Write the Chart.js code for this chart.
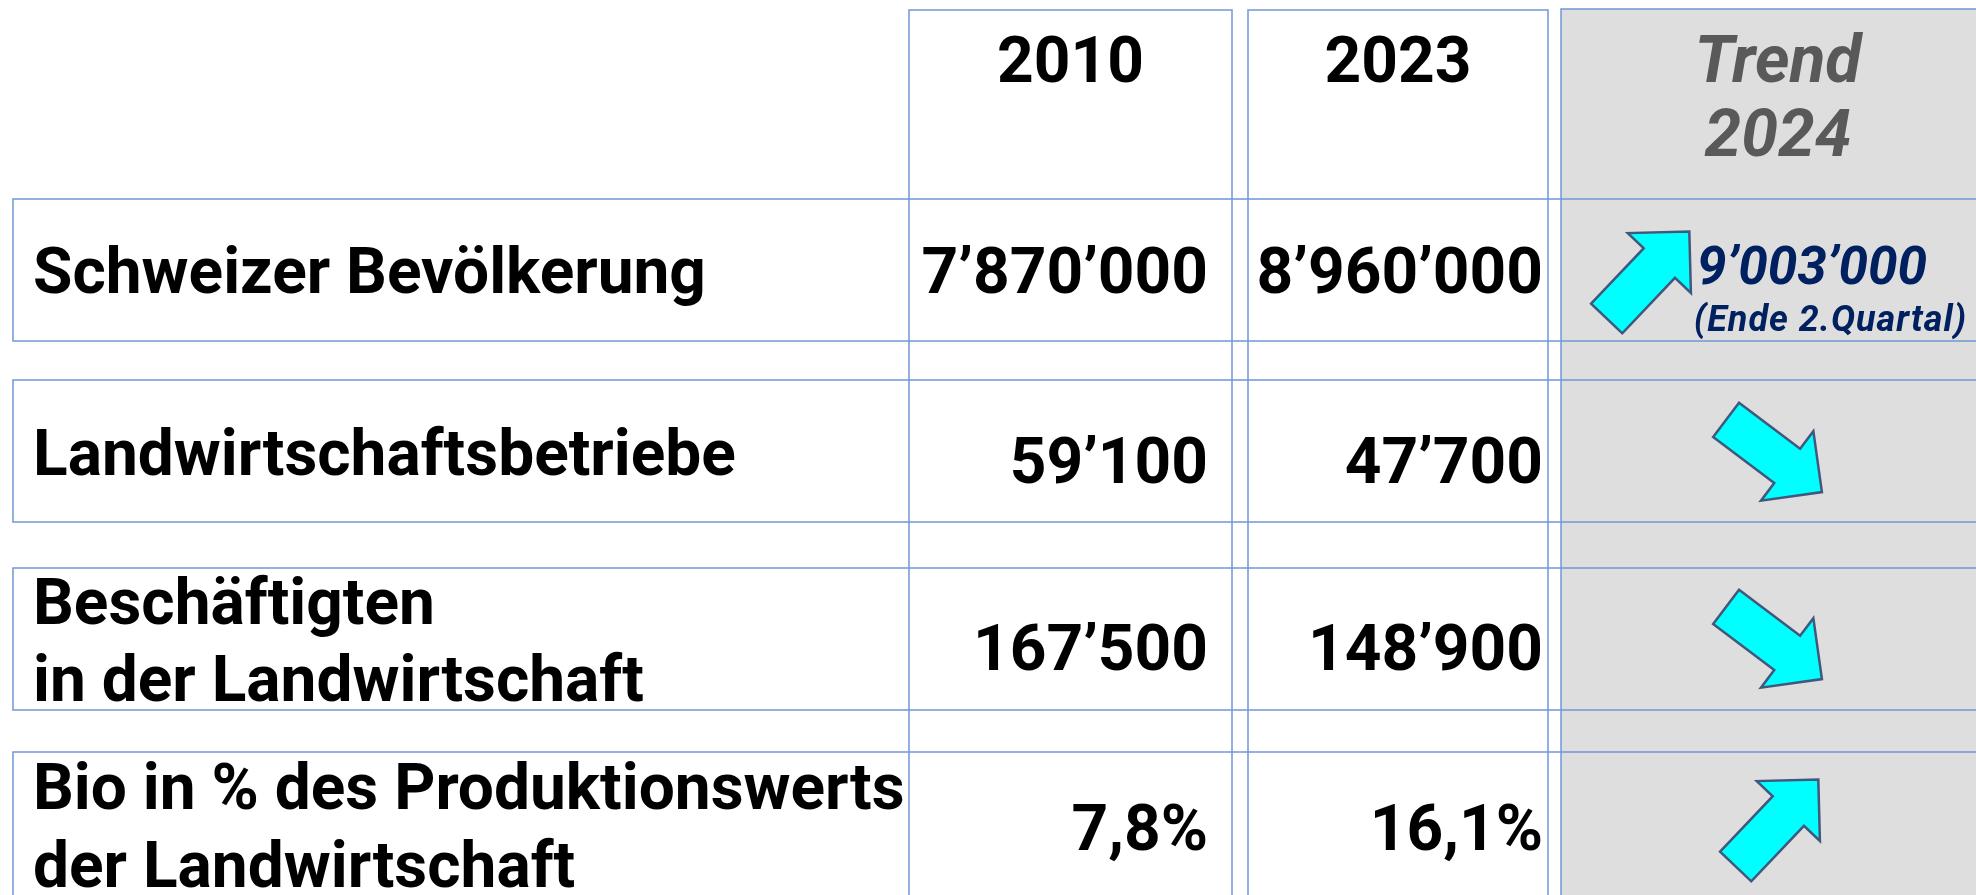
<!DOCTYPE html>
<html>
<head>
<meta charset="utf-8">
<script src="https://cdn.jsdelivr.net/npm/chart.js@4"></script>
<style>
  html, body { margin: 0; padding: 0; background: #ffffff; overflow: hidden; }
  #wrap { width: 1976px; height: 895px; position: relative; }
</style>
</head>
<body>
<div id="wrap"><canvas id="c" width="1976" height="895"></canvas></div>
<script>
// ---------- DATA ----------
const columnHeaders = ['2010', '2023'];
const trendHeader = ['Trend', '2024'];
const categories = [
  ['Schweizer Bevölkerung'],
  ['Landwirtschaftsbetriebe'],
  ['Beschäftigten', 'in der Landwirtschaft'],
  ['Bio in % des Produktionswerts', 'der Landwirtschaft']
];
const units = ['count', 'count', 'count', 'percent'];
const values2010 = [7870000, 59100, 167500, 7.8];
const values2023 = [8960000, 47700, 148900, 16.1];
const trend2024 = ['up', 'down', 'down', 'up'];
const trendValue2024 = [9003000, null, null, null];
const trendNote2024 = ['(Ende 2.Quartal)', null, null, null];

// ---------- LAYOUT (in scale units == page pixels) ----------
const W = 1976, H = 895;
const labelLeft = 13;
const colBoxes = [[909, 1232], [1248, 1548]];
const trendBox = [1561, 2000];
const headerTop = 10, trendTop = 9;
const rowBands = [[199, 341], [380, 522], [568, 710], [752, 1000]];
const labelBaselines = [[293], [475], [624, 701], [809, 887]];
const valueBaselines = [293, 483, 670, 850];
const valueRight = [1208, 1543];
const arrowCenters = [[1648, 275], [1774, 456], [1774, 643], [1777, 823]];
const arrowAngle = { up: -46.5, down: 37 };

const LINE = '#7098d6';
const FONT = 'Roboto, "Noto Sans", sans-serif';

function fmt(v, unit) {
  if (unit === 'percent') return v.toFixed(1).replace('.', ',') + '%';
  return Math.round(v).toString().replace(/\B(?=(\d{3})+(?!\d))/g, '\u2019');
}

const tablePlugin = {
  id: 'tablePlugin',
  afterDraw(chart) {
    const ctx = chart.ctx;
    const xs = chart.scales.x, ys = chart.scales.y;
    const px = v => xs.getPixelForValue(v);
    const py = v => ys.getPixelForValue(v);
    ctx.save();

    // trend column fill
    ctx.fillStyle = '#dedede';
    ctx.fillRect(px(trendBox[0]), py(trendTop), px(trendBox[1]) - px(trendBox[0]), py(H + 50) - py(trendTop));

    ctx.strokeStyle = LINE;
    ctx.lineWidth = 1.5;
    colBoxes.forEach(b => {
      ctx.strokeRect(px(b[0]), py(headerTop), px(b[1]) - px(b[0]), py(H + 50) - py(headerTop));
    });
    ctx.strokeRect(px(trendBox[0]), py(trendTop), px(trendBox[1]) - px(trendBox[0]), py(H + 50) - py(trendTop));
    rowBands.forEach(r => {
      ctx.strokeRect(px(labelLeft), py(r[0]), px(W + 50) - px(labelLeft), py(r[1]) - py(r[0]));
    });

    // headers
    ctx.fillStyle = '#000';
    ctx.textAlign = 'center';
    ctx.textBaseline = 'alphabetic';
    ctx.font = 'bold 64px ' + FONT;
    columnHeaders.forEach((h, i) => {
      ctx.fillText(h, px((colBoxes[i][0] + colBoxes[i][1]) / 2), py(82));
    });
    ctx.fillStyle = '#595959';
    ctx.font = 'italic bold 66px ' + FONT;
    ctx.fillText(trendHeader[0], px(1778), py(82));
    ctx.fillText(trendHeader[1], px(1778), py(156));

    // labels
    ctx.fillStyle = '#000';
    ctx.textAlign = 'left';
    ctx.font = 'bold 64px ' + FONT;
    categories.forEach((lines, i) => {
      lines.forEach((t, j) => ctx.fillText(t, px(33), py(labelBaselines[i][j])));
    });

    // values
    ctx.textAlign = 'right';
    values2010.forEach((v, i) => ctx.fillText(fmt(v, units[i]), px(valueRight[0]), py(valueBaselines[i])));
    values2023.forEach((v, i) => ctx.fillText(fmt(v, units[i]), px(valueRight[1]), py(valueBaselines[i])));

    // trend values
    ctx.textAlign = 'left';
    ctx.fillStyle = '#002060';
    trendValue2024.forEach((v, i) => {
      if (v == null) return;
      ctx.font = 'italic bold 53px ' + FONT;
      ctx.fillText(fmt(v, units[i]), px(1697), py(284));
      if (trendNote2024[i]) {
        ctx.font = 'italic bold 36px ' + FONT;
        if ('letterSpacing' in ctx) ctx.letterSpacing = '1px';
        ctx.fillText(trendNote2024[i], px(1694), py(331));
        if ('letterSpacing' in ctx) ctx.letterSpacing = '0px';
      }
    });

    // arrows
    const L = 120, w = 43, Hh = 87, h = 43.5;
    const shape = [[0, -w / 2], [L - h, -w / 2], [L - h, -Hh / 2], [L, 0], [L - h, Hh / 2], [L - h, w / 2], [0, w / 2]];
    trend2024.forEach((dir, i) => {
      const c = arrowCenters[i];
      const a = arrowAngle[dir] * Math.PI / 180;
      const cos = Math.cos(a), sin = Math.sin(a);
      ctx.beginPath();
      shape.forEach((p, k) => {
        const lx = p[0] - L / 2, ly = p[1];
        const x = c[0] + lx * cos - ly * sin;
        const y = c[1] + lx * sin + ly * cos;
        if (k === 0) ctx.moveTo(px(x), py(y)); else ctx.lineTo(px(x), py(y));
      });
      ctx.closePath();
      ctx.fillStyle = '#00ffff';
      ctx.fill();
      ctx.strokeStyle = '#41587c';
      ctx.lineWidth = 2.5;
      ctx.lineJoin = 'miter';
      ctx.stroke();
    });

    ctx.restore();
  }
};

function build() {
  new Chart(document.getElementById('c'), {
    type: 'scatter',
    data: { datasets: [{ data: [], pointRadius: 0 }] },
    options: {
      responsive: false,
      animation: false,
      events: [],
      layout: { padding: 0 },
      plugins: { legend: { display: false }, tooltip: { enabled: false }, title: { display: false } },
      scales: {
        x: { type: 'linear', min: 0, max: W, display: false },
        y: { type: 'linear', min: 0, max: H, reverse: true, display: false }
      }
    },
    plugins: [tablePlugin]
  });
}
if (document.fonts && document.fonts.load) {
  Promise.all([
    document.fonts.load('bold 64px Roboto'),
    document.fonts.load('italic bold 64px Roboto')
  ]).then(build, build);
} else build();
</script>
</body>
</html>
